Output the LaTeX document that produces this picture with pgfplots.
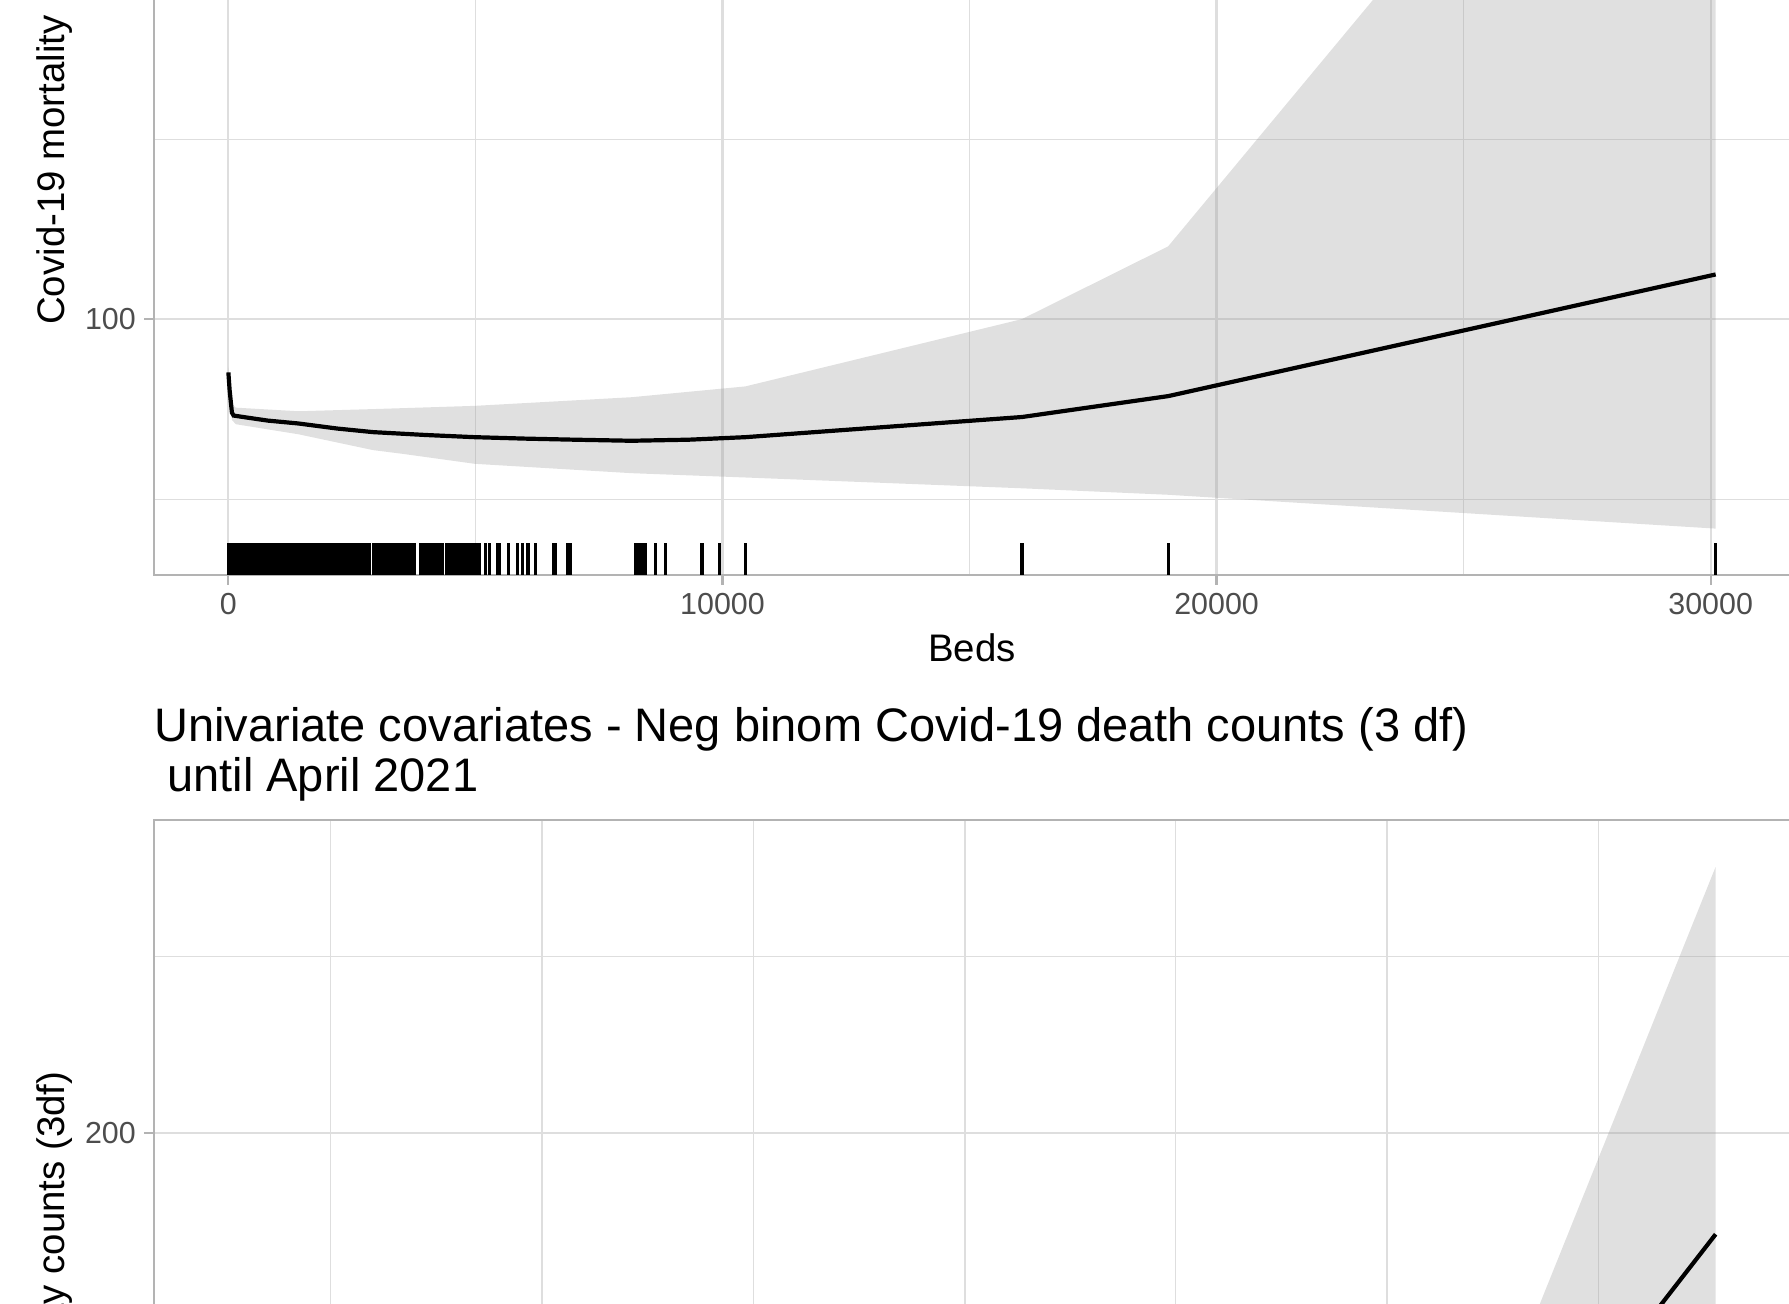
\documentclass[border=0pt]{standalone}
\usepackage{fontspec}
\setmainfont{Liberation Sans}
\usepackage{pgfplots}
\pgfplotsset{compat=1.18}
\definecolor{gridc}{HTML}{DEDEDE}
\definecolor{borderc}{HTML}{B3B3B3}
\definecolor{tickc}{HTML}{4D4D4D}
\definecolor{bandc}{HTML}{999999}
\pgfplotsset{
  ggstyle/.style={
    scale only axis, width=818pt, height=513pt,
    axis line style={borderc, line width=1.1pt},
    grid=both,
    major grid style={gridc, line width=1.1pt},
    minor grid style={gridc, line width=0.55pt},
    tick align=outside, xtick pos=bottom, ytick pos=left,
    major tick length=5pt, minor tick length=0pt,
    tick style={borderc, line width=1.1pt},
    scaled x ticks=false, scaled y ticks=false,
    /pgf/number format/assume math mode=true,
    ticklabel style={font=\fontsize{15.2}{18}\selectfont, text=tickc},
    xticklabel style={anchor=north, inner sep=0pt, yshift=-4pt},
    yticklabel style={anchor=east, inner sep=0pt, xshift=-3.9pt},
    label style={font=\fontsize{19.2}{22}\selectfont},
    ylabel style={at={(axis description cs:-0.0495,0.5)}, anchor=south, inner sep=0pt},
    clip=true,
  }
}
\begin{document}
\begin{tikzpicture}
% ---------- top panel ----------
\begin{axis}[ggstyle, at={(77pt,364.5pt)}, anchor=south west,
  xmin=-1505, xmax=31605, ymin=64.46, ymax=206.96,
  xtick={0,10000,20000,30000}, minor xtick={5000,15000,25000},
  xticklabels={0,10000,20000,30000},
  ytick={100,150,200}, minor ytick={75,125,175},
  yticklabels={100,150,200},
  xlabel={Beds}, ylabel={Covid-19 mortality},
  xlabel style={at={(axis description cs:0.5,-0.0848)}, anchor=base, inner sep=0pt},
  ylabel style={at={(axis description cs:-0.0495,0.3947)}},
]
% confidence band
\addplot[fill=bandc, fill opacity=0.3, draw=none] coordinates {
 (0,93.4) (26,91.0) (72,88.2) (150,87.7) (1420,87.2) (2930,87.5) (4986,87.95)
 (8159,89.15) (10463,90.65) (16062,100.0) (19019,110.1) (30100,201.6)
 (30100,70.9) (19019,75.6) (16062,76.5) (10463,78.0) (8159,78.6) (4986,79.9)
 (3510,81.3) (2930,81.8) (1420,84.0) (150,85.4) (72,86.0) (26,89.2) (0,91.8)
} -- cycle;
% fitted curve
\addplot[black, line width=2.1pt] coordinates {
 (0,92.6) (26,90.1) (72,87.0) (107,86.6) (400,86.3) (800,85.9) (1420,85.5)
 (2200,84.8) (2930,84.3) (4000,83.9) (4986,83.6) (6000,83.4) (6996,83.25)
 (8159,83.1) (9320,83.25) (10463,83.6) (16062,86.4) (19019,89.3) (30100,106.2)
};
% rug
\addplot[ycomb, black, line width=1.6pt, mark=none] coordinates {
 (0,68.85) (40,68.85) (80,68.85) (120,68.85) (160,68.85) (200,68.85) (250,68.85)
 (300,68.85) (350,68.85) (400,68.85) (450,68.85) (500,68.85) (550,68.85)
 (600,68.85) (650,68.85) (700,68.85) (750,68.85) (800,68.85) (850,68.85)
 (900,68.85) (950,68.85) (1000,68.85) (1050,68.85) (1100,68.85) (1150,68.85)
 (1200,68.85) (1250,68.85) (1300,68.85) (1350,68.85) (1400,68.85) (1450,68.85)
 (1500,68.85) (1550,68.85) (1600,68.85) (1650,68.85) (1700,68.85) (1750,68.85)
 (1800,68.85) (1850,68.85) (1900,68.85) (1950,68.85) (2000,68.85) (2050,68.85)
 (2100,68.85) (2150,68.85) (2200,68.85) (2250,68.85) (2300,68.85) (2350,68.85)
 (2400,68.85) (2460,68.85) (2510,68.85) (2560,68.85) (2610,68.85) (2660,68.85)
 (2710,68.85) (2760,68.85) (2810,68.85) (2850,68.85) (2940,68.85) (2990,68.85)
 (3040,68.85) (3090,68.85) (3140,68.85) (3190,68.85) (3240,68.85) (3290,68.85)
 (3360,68.85) (3410,68.85) (3460,68.85) (3510,68.85) (3560,68.85) (3610,68.85)
 (3660,68.85) (3710,68.85) (3760,68.85) (3900,68.85) (3950,68.85) (4000,68.85)
 (4050,68.85) (4100,68.85) (4150,68.85) (4200,68.85) (4250,68.85) (4300,68.85)
 (4340,68.85) (4420,68.85) (4440,68.85) (4500,68.85) (4550,68.85) (4600,68.85)
 (4650,68.85) (4700,68.85) (4750,68.85) (4800,68.85) (4850,68.85) (4900,68.85)
 (4958,68.85) (5012,68.85) (5073,68.85) (5210,68.85) (5280,68.85) (5450,68.85)
 (5480,68.85) (5673,68.85) (5858,68.85) (5960,68.85) (6064,68.85) (6222,68.85)
 (6590,68.85) (6620,68.85) (6860,68.85) (6915,68.85) (8243,68.85) (8283,68.85)
 (8344,68.85) (8398,68.85) (8432,68.85) (8642,68.85) (8844,68.85) (9586,68.85)
 (9937,68.85) (10463,68.85) (16062,68.85) (19019,68.85) (30100,68.85)
};
\end{axis}
% ---------- bottom panel ----------
\begin{axis}[ggstyle, at={(77pt,242pt)}, anchor=north west,
  xmin=0.82, xmax=39.53, ymin=-2.6, ymax=288.9,
  xtick={10,20,30}, minor xtick={5,15,25,35},
  ytick={0,100,200}, minor ytick={50,150,250},
  yticklabels={0,100,200},
  ylabel={Covid-19 mortality counts (3df)},
  title={Univariate covariates - Neg binom Covid-19 death counts (3 df)\\\hspace*{6.5pt}until April 2021},
  title style={at={(axis description cs:0,1)}, anchor=south west, align=left,
    inner sep=0pt, yshift=3.3pt, font=\fontsize{23.5}{25}\selectfont},
]
\addplot[fill=bandc, fill opacity=0.3, draw=none] coordinates {
 (30,42.8) (33.61,151.4) (37.77,275.6) (37.77,110) (33,60) (30,30)
} -- cycle;
\addplot[black, line width=2.1pt] coordinates {
 (33,97.3) (36.49,151.4) (37.77,171.2)
};
\end{axis}
\pgfresetboundingbox
\useasboundingbox (0,0) rectangle (894.5pt,652pt);
\end{tikzpicture}
\end{document}
